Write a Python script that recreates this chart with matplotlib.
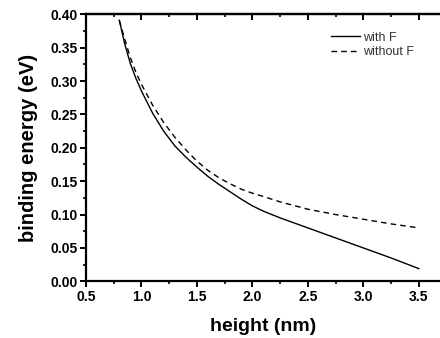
import matplotlib
matplotlib.use("Agg")
import matplotlib.pyplot as plt
from matplotlib.ticker import MultipleLocator, NullFormatter

plt.rcParams['font.family'] = ['Liberation Sans', 'DejaVu Sans']

# values
height = [0.8, 0.85, 0.9, 0.95, 1.0, 1.1, 1.2, 1.3, 1.4, 1.5, 1.6, 1.7, 1.8, 1.9, 2.0,
          2.1, 2.25, 2.5, 2.75, 3.0, 3.25, 3.5]
with_f = [0.391, 0.355, 0.326, 0.304, 0.285, 0.252, 0.225, 0.203, 0.186, 0.171, 0.157,
          0.145, 0.134, 0.123, 0.113, 0.105, 0.095, 0.080, 0.065, 0.050, 0.035, 0.019]
without_f = [0.391, 0.362, 0.335, 0.313, 0.295, 0.264, 0.238, 0.216, 0.197, 0.180, 0.166,
             0.155, 0.146, 0.138, 0.132, 0.127, 0.119, 0.108, 0.100, 0.093, 0.086, 0.080]

fig = plt.figure(figsize=(4.4, 3.38), dpi=100)
ax = fig.add_axes([0.1955, 0.1677, 0.8068, 0.7900])

ax.plot(height, with_f, color="black", linewidth=1.0, label="with F")
ax.plot(height, without_f, color="black", linewidth=1.0, linestyle=(0, (4, 3)), label="without F")

ax.set_xlim(0.5, 3.7)
ax.set_ylim(0.0, 0.40)
ax.xaxis.set_major_locator(MultipleLocator(0.5))
ax.xaxis.set_minor_locator(MultipleLocator(0.25))
ax.yaxis.set_major_locator(MultipleLocator(0.05))
ax.yaxis.set_minor_locator(MultipleLocator(0.025))
ax.xaxis.set_major_formatter(plt.FormatStrFormatter("%.1f"))
ax.yaxis.set_major_formatter(plt.FormatStrFormatter("%.2f"))

for s in ax.spines.values():
    s.set_linewidth(1.6)
ax.tick_params(which="major", direction="out", length=4, width=1.4, labelsize=10, pad=2)
ax.tick_params(which="minor", direction="out", length=2.5, width=1.2)
for lab in ax.get_xticklabels() + ax.get_yticklabels():
    lab.set_fontweight("bold")

# top axis: ticks pointing inwards, no labels
top = ax.secondary_xaxis("top")
top.xaxis.set_major_locator(MultipleLocator(0.5))
top.xaxis.set_minor_locator(MultipleLocator(0.25))
top.xaxis.set_major_formatter(NullFormatter())
top.tick_params(which="major", direction="in", length=4, width=1.4)
top.tick_params(which="minor", direction="in", length=2.5, width=1.2)
top.spines["top"].set_linewidth(1.6)

ax.set_xlabel("height (nm)", fontsize=14, fontweight="bold", labelpad=10)
ax.set_ylabel("binding energy (eV)", fontsize=14.5, fontweight="bold", labelpad=9)

leg = ax.legend(loc="upper left", bbox_to_anchor=(0.69, 0.935), frameon=False,
                fontsize=9, handlelength=2.3, handletextpad=0.3, labelspacing=0.2,
                borderpad=0, borderaxespad=0)
for t in leg.get_texts():
    t.set_color("#333333")

plt.savefig("out.png", dpi=100)
